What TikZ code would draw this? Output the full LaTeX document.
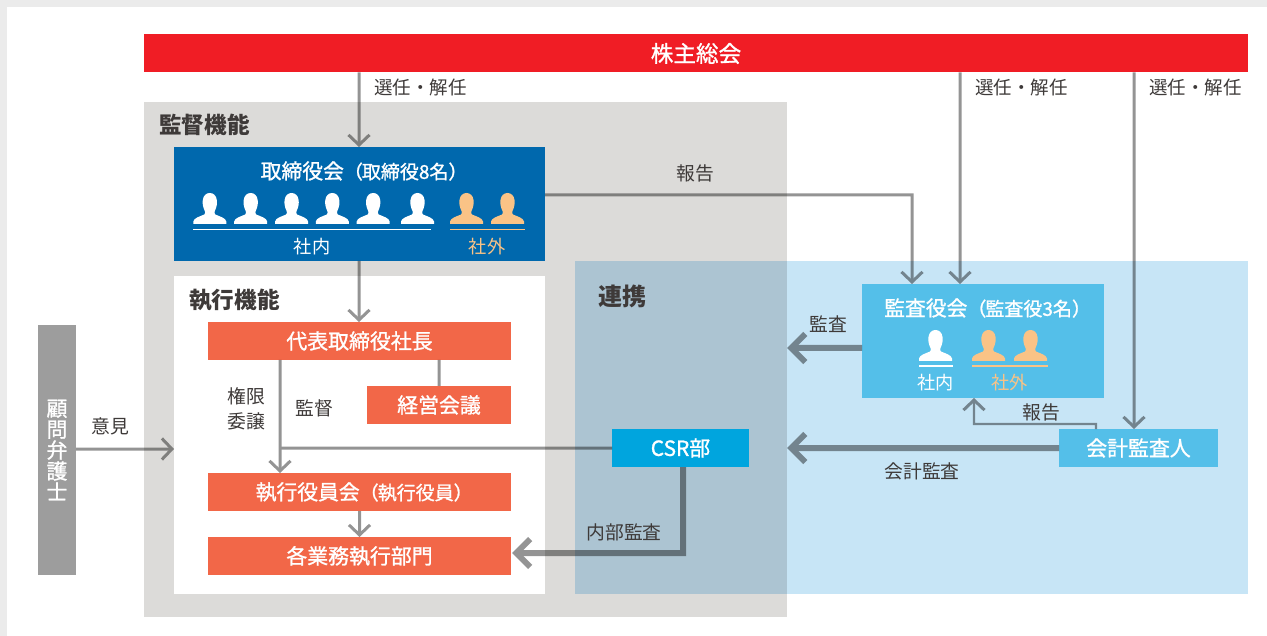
\documentclass[tikz,border=0pt]{standalone}
\usepackage{fontspec}
\setmainfont{Noto Sans CJK JP}
\newfontfamily\medf[FakeBold=1.2]{Noto Sans CJK JP}
\usetikzlibrary{arrows.meta}
\definecolor{pagegray}{HTML}{EBEBEB}
\definecolor{redc}{HTML}{F01D25}
\definecolor{supgray}{HTML}{DCDBD9}
\definecolor{lightblue}{HTML}{C7E5F6}
\definecolor{overlapc}{HTML}{ACC4D2}
\definecolor{navy}{HTML}{0068AD}
\definecolor{orangec}{HTML}{F26748}
\definecolor{csrc}{HTML}{00A5DE}
\definecolor{skyc}{HTML}{54BFE9}
\definecolor{sidegray}{HTML}{9D9D9D}
\definecolor{peach}{HTML}{FAC386}
\definecolor{inkc}{HTML}{3E3A39}
\newcommand{\bigf}{\fontsize{20.8}{24}\selectfont}
\newcommand{\smallf}{\fontsize{19}{24}\selectfont}
\tikzset{
  panel/.style={fill=#1,draw=none,inner sep=0pt,outer sep=0pt},
  boxa/.style={panel=#1,text=white,font=\medf\fontsize{20.9}{24}\selectfont},
  boxt/.style={text=white,inner sep=0pt,anchor=west,font=\medf},
  lab/.style={text=inkc,inner sep=0pt,yshift=-0.5pt,font=\fontsize{18.8}{25}\selectfont,align=center},
  sellab/.style={lab,font=\fontsize{18.5}{25}\selectfont},
  head/.style={text=inkc,inner sep=0pt,font=\fontsize{22.6}{26}\selectfont\bfseries},
  wlab/.style={text=white,inner sep=0pt,yshift=-1pt,font=\fontsize{18.2}{22}\selectfont},
  plab/.style={text=peach,inner sep=0pt,yshift=-1pt,font=\fontsize{18.2}{22}\selectfont},
  thinarrow/.style={draw=black,line width=3pt,-{Straight Barb[length=10pt,width=21pt,line width=3pt]}},
  thickarrow/.style={draw=black,line width=6pt,-{Straight Barb[length=14pt,width=28pt,line width=6pt]}},
  plainline/.style={draw=black,line width=3pt},
  person/.pic={\fill[pic actions] (0,31) -- (0,28.5) .. controls (0.5,25) and (6.5,23.5) .. (11,21.5)
    .. controls (12,20.5) and (12,19.5) .. (11.5,18) .. controls (9.5,14) and (9,10) .. (9.5,7)
    .. controls (10,2.5) and (13,0) .. (16.5,0) .. controls (20,0) and (23,2.5) .. (23.5,7)
    .. controls (24,10) and (23.5,14) .. (21.5,18) .. controls (21,19.5) and (21,20.5) .. (22,21.5)
    .. controls (26.5,23.5) and (32.5,25) .. (33,28.5) -- (33,31) -- cycle;}
}
\begin{document}
\begin{tikzpicture}[x=1pt,y=-1pt]
\useasboundingbox (0,0) rectangle (1267,636);
\fill[pagegray] (0,0) rectangle (1267,636);
\fill[white] (7,7) rectangle (1267,636);
% panels
\node[panel=supgray,minimum width=643pt,minimum height=515pt] (sup) at (465.5,359.5) {};
\node[panel=lightblue,minimum width=673pt,minimum height=333pt] (link) at (911.5,427.5) {};
\fill[overlapc] (link.north west) rectangle (sup.east |- link.south);
\node[panel=white,minimum width=371pt,minimum height=318pt] (exec) at (359.5,435) {};
% boxes
\node[boxa=redc,minimum width=1104pt,minimum height=38pt,font=\medf\fontsize{22.6}{26}\selectfont] (kabu) at (696,53.5) {株主総会};
\node[panel=navy,minimum width=371pt,minimum height=114pt] (tori) at (359.5,204) {};
\node[boxt] (torit) at (260.5,171) {\bigf 取締役会\smallf（\hspace{-1pt}取締役8名）};
\node[boxa=orangec,minimum width=303pt,minimum height=38pt] (pres) at (359.5,341) {代表取締役社長};
\node[boxa=orangec,minimum width=144pt,minimum height=38pt] (keiei) at (439,405) {経営会議};
\node[panel=orangec,minimum width=303pt,minimum height=38pt] (yakuin) at (359.5,492) {};
\node[boxt] (yakuint) at (255.5,492) {\bigf 執行役員会\smallf（\hspace{-1pt}執行役員）};
\node[boxa=orangec,minimum width=303pt,minimum height=38pt] (bumon) at (359.5,556) {各業務執行部門};
\node[boxa=csrc,minimum width=137pt,minimum height=38pt] (csr) at (680.5,448) {CSR部};
\node[panel=skyc,minimum width=242pt,minimum height=114pt] (kansa) at (983,341) {};
\node[boxt] (kansat) at (884,308) {\bigf 監査役会\smallf（\hspace{-1pt}監査役3名）};
\node[boxa=skyc,minimum width=159pt,minimum height=38pt] (kaikei) at (1138.5,448) {会計監査人};
\node[boxa=sidegray,minimum width=38pt,minimum height=250pt,align=center,font=\medf\fontsize{20.8}{20.9}\selectfont] (komon) at (57,450) {顧\\問\\弁\\護\\士};
% headings
\node[head,anchor=west] (hkan) at (159,125) {監督機能};
\node[head,anchor=west] (hexe) at (189,300) {執行機能};
\node[head,anchor=west,font=\fontsize{24}{26}\selectfont\bfseries] (hren) at (598,296) {連携};
% persons
\foreach \x in {193.3,234.2,275.1,315.8,356.7,401}{\pic[fill=white] at (\x,193) {person};}
\foreach \x in {450,491}{\pic[fill=peach] at (\x,193) {person};}
\pic[fill=white] at (919,330) {person};
\foreach \x in {972,1014}{\pic[fill=peach] at (\x,330) {person};}
\fill[white] (193,228.7) rectangle (431,230.2);
\fill[peach] (450,228.7) rectangle (525,230.2);
\fill[white] (919,365.3) rectangle (952.5,366.8);
\fill[peach] (972,365.3) rectangle (1047.5,366.8);
\node[wlab] (n1) at (312,246) {社内};
\node[plab] (n2) at (487,246) {社外};
\node[wlab] (n3) at (935.5,382) {社内};
\node[plab] (n4) at (1009.5,382) {社外};
% connector end points
\coordinate (kx1) at (kabu.south -| 960,0);
\coordinate (kx2) at (kabu.south -| 1134,0);
\coordinate (rep) at (912,195);
\coordinate (repstart) at (tori.east |- rep);
\coordinate (lefta) at (komon.east |- 0,449);
\coordinate (presa) at (pres.south -| 280,0);
\coordinate (yakb) at (yakuin.north -| 280,0);
\coordinate (csrj) at (280,448);
\coordinate (keia) at (pres.south -| keiei.north);
\coordinate (kanl) at (787,348);
\coordinate (kanr) at (kansa.west |- kanl);
\coordinate (kail) at (787,448);
\coordinate (csrb) at (csr.south -| 683,0);
\coordinate (csrd) at (683,553);
\coordinate (bum) at (512,553);
\coordinate (ra) at (kaikei.north -| 1096,0);
\coordinate (rb) at (1096,424);
\coordinate (rc) at (974,424);
\coordinate (rd) at (kansa.south -| 974,0);
\coordinate (tob) at (kabu.south -| 359,0);
% connectors
\begin{scope}[opacity=.42,transparency group]
\draw[thinarrow] (tob) -- (tob |- tori.north);
\draw[thinarrow] (tori.south -| 359,0) -- (pres.north -| 359,0);
\draw[thinarrow] (kx1) -- (kx1 |- kansa.north);
\draw[thinarrow] (kx2) -- (kx2 |- kaikei.north);
\draw[thinarrow] (repstart) -- (rep) -- (rep |- kansa.north);
\draw[thinarrow] (lefta) -- (174,449);
\draw[thinarrow] (presa) -- (yakb);
\draw[plainline] (csr.west |- csrj) -- (csrj);
\draw[plainline] (keia) -- (keiei.north);
\draw[thinarrow] (yakuin.south) -- (bumon.north);
\draw[thinarrow,line width=2.4pt] (ra) -- (rb) -- (rc) -- (rd);
\draw[thickarrow] (kanr) -- (kanl);
\draw[thickarrow] (kaikei.west |- kail) -- (kail);
\draw[thickarrow] (csrb) -- (csrd) -- (bum);
\end{scope}
% labels
\node[sellab] (l1) at (420.5,87) {選任・解任};
\node[sellab] (l2) at (1021.5,87) {選任・解任};
\node[sellab] (l3) at (1195.5,87) {選任・解任};
\node[lab] (l4) at (695.5,173) {報告};
\node[lab] (l5) at (828,324) {監査};
\node[lab] (l6) at (1041.5,412) {報告};
\node[lab] (l7) at (922,471) {会計監査};
\node[lab] (l8) at (624,532) {内部監査};
\node[lab] (l9) at (110,425.5) {意見};
\node[lab] (l10) at (246,408) {権限\\委譲};
\node[lab] (l11) at (314,408) {監督};
\end{tikzpicture}
\end{document}
